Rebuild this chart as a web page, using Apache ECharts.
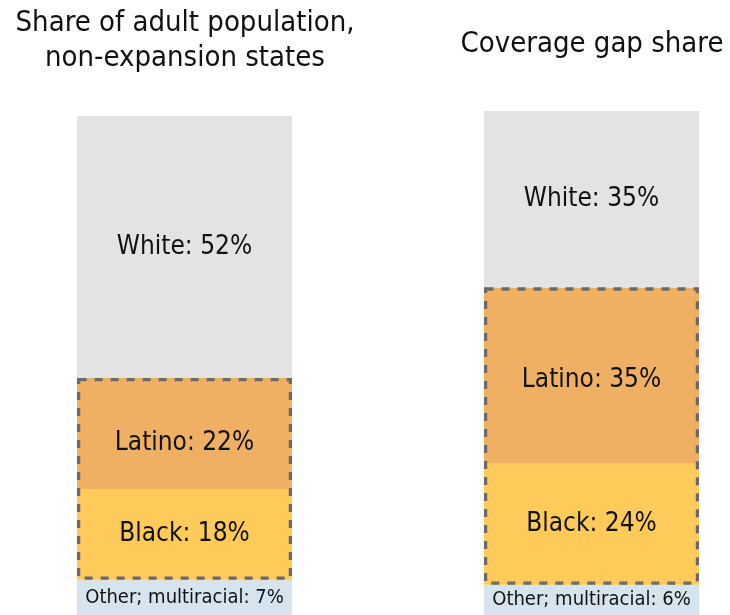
<!DOCTYPE html>
<html>
<head>
<meta charset="utf-8">
<script src="https://cdn.jsdelivr.net/npm/echarts@6/dist/echarts.min.js"></script>
<style>
  html, body { margin: 0; padding: 0; background: #fff; }
  #chart { width: 730px; height: 615px; }
</style>
</head>
<body>
<div id="chart"></div>
<script>
// Groups, stacked bottom to top
var groups = ['Other; multiracial', 'Black', 'Latino', 'White'];
// Share of adult population in non-expansion states (%)
var adultShare = [7, 18, 22, 52];
// Share of the coverage gap (%)
var gapShare = [6, 24, 35, 35];
var panelTitles = ['Share of adult population,\nnon-expansion states', 'Coverage gap share'];

var colors = ['#d6e4f0', '#fecb5a', '#f0b063', '#e3e3e3'];
var FONT = '"DejaVu Sans Condensed", "Liberation Sans Narrow", "Roboto", sans-serif';

var chart = echarts.init(document.getElementById('chart'), null, { renderer: 'canvas' });

// Dashed box around the Black + Latino segments of a bar
function outlineItem(params, api) {
  var lo = api.coord([api.value(0), api.value(1)]);
  var hi = api.coord([api.value(0), api.value(2)]);
  var w = api.size([1, 0])[0];
  var inset = 1.6;
  return {
    type: 'rect',
    shape: { x: lo[0] - w / 2 + inset, y: hi[1] + inset, width: w - 2 * inset, height: lo[1] - hi[1] - 2 * inset },
    style: { fill: 'none', stroke: '#6a6a6a', lineWidth: 3.3, lineDash: [8, 8] }
  };
}

// Latino labels sit a little below the middle of their segment
var latinoShift = [10, 5];

var panels = [adultShare, gapShare];
var series = [];
panels.forEach(function (vals, g) {
  groups.forEach(function (name, i) {
    series.push({
      type: 'bar',
      name: name,
      xAxisIndex: g,
      yAxisIndex: g,
      stack: 'panel' + g,
      barWidth: '100%',
      data: [vals[i]],
      itemStyle: { color: colors[i] },
      emphasis: { disabled: true },
      label: {
        show: true,
        position: 'inside',
        offset: [0, name === 'Latino' ? latinoShift[g] : 0],
        formatter: '{a}: {c}%',
        color: '#111',
        fontFamily: FONT,
        fontSize: i === 0 ? 20 : 26
      }
    });
  });
  var lower = vals[0];
  var upper = vals[0] + vals[1] + vals[2];
  series.push({
    type: 'custom',
    xAxisIndex: g,
    yAxisIndex: g,
    z: 5,
    silent: true,
    renderItem: outlineItem,
    encode: { x: 0, y: [1, 2] },
    data: [[0, lower, upper]]
  });
});

var titleText = { fontFamily: FONT, fontSize: 29, fontWeight: 'normal', color: '#111', lineHeight: 35 };

var option = {
  animation: false,
  title: [
    { text: panelTitles[0], left: 180, top: 1, textAlign: 'center', textStyle: titleText },
    { text: panelTitles[1], left: 587, top: 22, textAlign: 'center', textStyle: titleText }
  ],
  grid: [
    { left: 77, width: 215, top: 111, height: 504 },
    { left: 484, width: 215, top: 111, height: 504 }
  ],
  xAxis: [
    { type: 'category', gridIndex: 0, data: ['a'], show: false },
    { type: 'category', gridIndex: 1, data: ['b'], show: false }
  ],
  yAxis: [
    { type: 'value', gridIndex: 0, min: 0, max: 100, show: false },
    { type: 'value', gridIndex: 1, min: 0, max: 100, show: false }
  ],
  series: series
};
chart.setOption(option);
</script>
</body>
</html>
